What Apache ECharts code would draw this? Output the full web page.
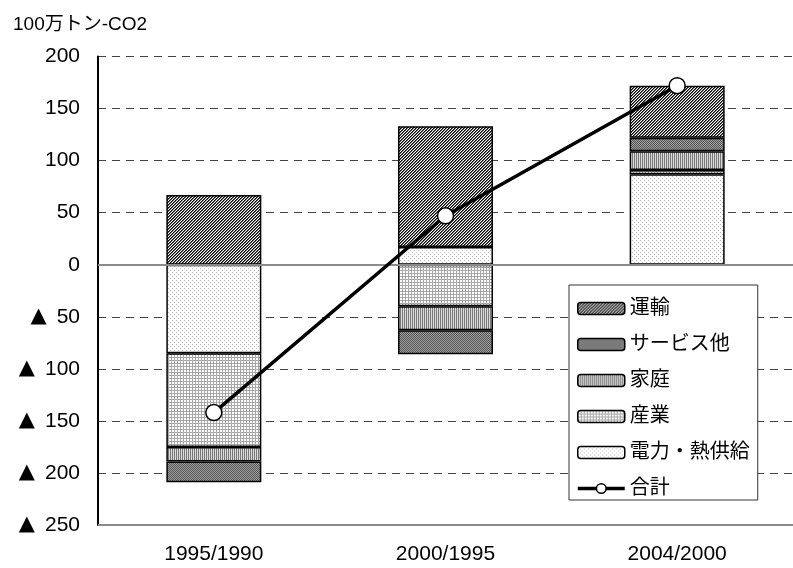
<!DOCTYPE html>
<html>
<head>
<meta charset="utf-8">
<script src="https://cdn.jsdelivr.net/npm/echarts@6/dist/echarts.min.js"></script>
<style>
  html, body { margin: 0; padding: 0; background: #fff; }
  #chart { width: 793px; height: 568px; }
</style>
</head>
<body>
<div id="chart"></div>
<script>
// Change in CO2 emissions by sector between periods (million t-CO2)
const categories = ['1995/1990', '2000/1995', '2004/2000'];
const power      = [-85, 17, 87];     // 電力・熱供給
const industry   = [-90, -40, 4];     // 産業
const household  = [-14, -23, 18];    // 家庭
const services   = [-20, -23, 13];    // サービス他
const transport  = [67, 116, 50];     // 運輸
const total      = [-142, 47, 172];   // 合計
const yTicks = { min: -250, max: 200, step: 50 };

const FONT = "'Liberation Sans', 'Noto Sans CJK JP', sans-serif";

// Small repeating fills for the hatched bars
function tile(w, h, bg, paint) {
  const c = document.createElement('canvas');
  c.width = w; c.height = h;
  const g = c.getContext('2d');
  g.fillStyle = bg; g.fillRect(0, 0, w, h);
  for (let y = 0; y < h; y++)
    for (let x = 0; x < w; x++) {
      const col = paint(x, y);
      if (col) { g.fillStyle = col; g.fillRect(x, y, 1, 1); }
    }
  return { image: c, repeat: 'repeat' };
}
const fills = {
  transport: tile(3, 3, '#ffffff', (x, y) => {
    const k = (x + y) % 3;
    return k === 0 ? '#000000' : (k === 1 ? '#666666' : null);
  }),
  services:  tile(2, 2, '#a0a0a0', (x, y) => ((x + y) % 2 === 0 ? '#555555' : null)),
  household: tile(2, 1, '#dadada', (x) => (x === 0 ? '#7a7a7a' : null)),
  industry:  tile(3, 3, '#ffffff', (x, y) => (x === 0 || y === 0 ? '#a8a8a8' : null)),
  power:     tile(4, 4, '#ffffff', (x, y) => ((x === 0 && y === 0) || (x === 2 && y === 2) ? '#b8b8b8' : null))
};

function barSeries(name, data, fill) {
  return {
    name, type: 'bar', stack: 'sector', data,
    barWidth: 95,
    itemStyle: { color: fill, borderColor: '#000', borderWidth: 1.5 },
    emphasis: { disabled: true }
  };
}

const chart = echarts.init(document.getElementById('chart'), null, { renderer: 'canvas' });

const series = [
  barSeries('電力・熱供給', power, fills.power),
  barSeries('産業', industry, fills.industry),
  barSeries('家庭', household, fills.household),
  barSeries('サービス他', services, fills.services),
  barSeries('運輸', transport, fills.transport),
  {
    name: '合計', type: 'line', data: total, z: 10,
    symbol: 'circle', symbolSize: 16,
    lineStyle: { color: '#000', width: 3.5 },
    itemStyle: { color: '#fff', borderColor: '#000', borderWidth: 1.5 },
    emphasis: { disabled: true }
  }
];
// zero line and lower frame line
series[0].markLine = {
  silent: true, symbol: 'none', label: { show: false },
  lineStyle: { type: 'solid', color: '#8a8a8a', width: 2 },
  data: [{ yAxis: 0 }, { yAxis: yTicks.min }]
};

chart.setOption({
  animation: false,
  backgroundColor: '#fff',
  textStyle: { fontFamily: FONT },
  title: {
    text: '100万トン-CO2', left: 8, top: 10,
    textStyle: { fontFamily: FONT, fontSize: 19, fontWeight: 'normal', color: '#000' }
  },
  grid: { left: 98, right: -13, top: 56.5, bottom: 43, containLabel: false },
  legend: {
    orient: 'vertical', left: 569, top: 285,
    data: ['運輸', 'サービス他', '家庭', '産業', '電力・熱供給', '合計'],
    itemWidth: 47, itemHeight: 12, itemGap: 13,
    padding: [12, 8, 0, 7],
    backgroundColor: '#fff', borderColor: '#333', borderWidth: 1,
    textStyle: { fontFamily: FONT, fontSize: 20, lineHeight: 23, color: '#000' },
    itemStyle: { borderColor: '#000', borderWidth: 1.5 },
    lineStyle: { width: 3.5, color: '#000' },
    selectedMode: false
  },
  xAxis: {
    type: 'category', data: categories,
    axisLine: { show: false }, axisTick: { show: false },
    axisLabel: { color: '#000', fontSize: 21, fontFamily: FONT, margin: 19 }
  },
  yAxis: {
    type: 'value', min: yTicks.min, max: yTicks.max, interval: yTicks.step,
    axisLine: { show: true, lineStyle: { color: '#000', width: 2 } },
    axisTick: { show: false },
    axisLabel: {
      color: '#000', fontSize: 21, fontFamily: FONT, margin: 18,
      formatter: v => (v < 0 ? '{t|▲}' + (-v) : String(v)),
      rich: {
        t: { fontFamily: "'DejaVu Sans', sans-serif", fontSize: 21, color: '#000', padding: [0, 10, 0, 0] }
      }
    },
    splitLine: { show: true, lineStyle: { color: '#444', width: 1, type: [8, 6] } }
  },
  series
});
</script>
</body>
</html>
